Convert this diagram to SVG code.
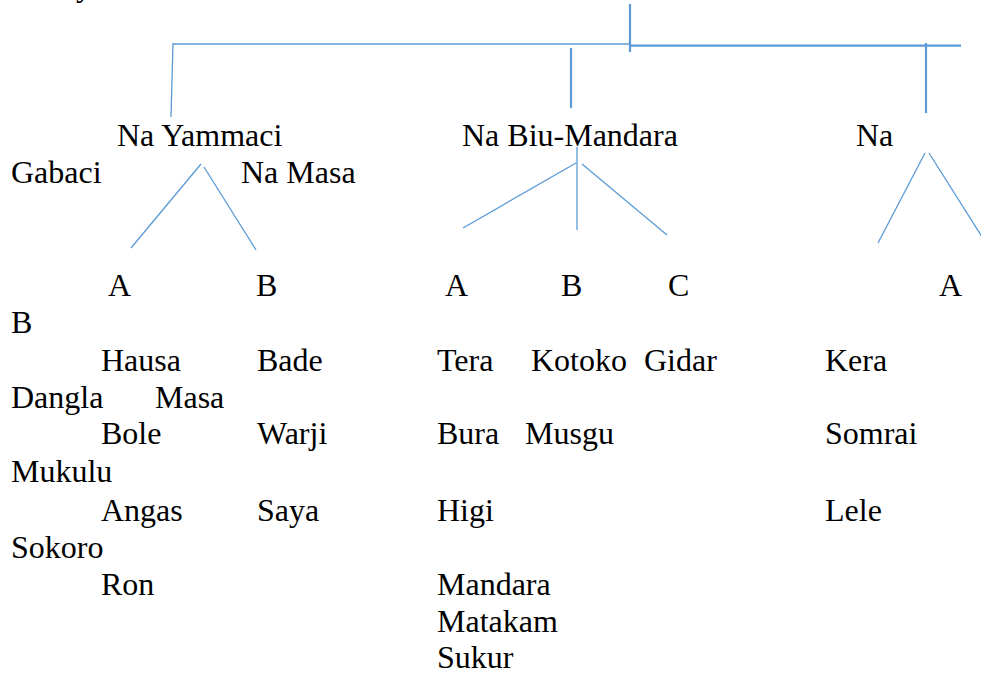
<svg xmlns="http://www.w3.org/2000/svg" width="981" height="675" viewBox="0 0 981 675">
<style>
.t text{font-size:32px;fill:#000}
.c{stroke:#5B9BD5;fill:none}
.thin{stroke-width:1.3}
.mid{stroke-width:1.6}
.thick{stroke-width:2.2}
</style>
<rect width="981" height="675" fill="#fff"/>
<g id="connectors">
<line class="c mid" x1="173" y1="44" x2="630" y2="44"/>
<line class="c thick" x1="630" y1="45.7" x2="961" y2="45.7"/>
<line class="c thick" x1="630" y1="4" x2="630" y2="52"/>
<line class="c thin" x1="173" y1="43" x2="171" y2="117"/>
<line class="c thick" x1="571" y1="48" x2="571" y2="108"/>
<line class="c thick" x1="926" y1="43" x2="926" y2="113"/>
<line class="c thin" x1="201" y1="164" x2="131" y2="248"/>
<line class="c thin" x1="204" y1="167" x2="256" y2="250"/>
<line class="c thin" x1="576" y1="163" x2="463" y2="228"/>
<line class="c thin" x1="577" y1="147" x2="577" y2="230"/>
<line class="c thin" x1="582" y1="164" x2="667" y2="235"/>
<line class="c thin" x1="925" y1="153" x2="878" y2="243"/>
<line class="c thin" x1="929" y1="153" x2="984" y2="240"/>
</g>
<g class="t" font-family="'Liberation Serif', 'Times New Roman', 'DejaVu Serif', serif">
<g id="top-fragment"><text x="76" y="-4">y</text></g>
<g id="na-yammaci"><text x="117" y="146">Na Yammaci</text></g>
<g id="gabaci"><text x="11" y="183">Gabaci</text></g>
<g id="na-masa"><text x="241" y="183">Na Masa</text></g>
<g id="na-biu-mandara"><text x="462" y="146">Na Biu-Mandara</text></g>
<g id="na"><text x="856" y="146">Na</text></g>
<g id="yammaci-a"><text x="108" y="296">A</text></g>
<g id="yammaci-b"><text x="256" y="296">B</text></g>
<g id="biu-a"><text x="445" y="296">A</text></g>
<g id="biu-b"><text x="561" y="296">B</text></g>
<g id="biu-c"><text x="668" y="296">C</text></g>
<g id="na-a"><text x="939" y="296">A</text></g>
<g id="na-b"><text x="11" y="333">B</text></g>
<g id="yammaci-a-list">
<text x="101" y="371">Hausa</text>
<text x="101" y="444">Bole</text>
<text x="101" y="521">Angas</text>
<text x="101" y="595">Ron</text>
</g>
<g id="yammaci-b-list">
<text x="257" y="371">Bade</text>
<text x="257" y="444">Warji</text>
<text x="257" y="521">Saya</text>
</g>
<g id="na-b-list">
<text x="11" y="408">Dangla</text>
<text x="155" y="408">Masa</text>
<text x="11" y="482">Mukulu</text>
<text x="11" y="558">Sokoro</text>
</g>
<g id="biu-a-list">
<text x="437" y="371">Tera</text>
<text x="437" y="444">Bura</text>
<text x="437" y="521">Higi</text>
<text x="437" y="595">Mandara</text>
<text x="437" y="632">Matakam</text>
<text x="437" y="668">Sukur</text>
</g>
<g id="biu-b-list">
<text x="531" y="371">Kotoko</text>
<text x="525" y="444">Musgu</text>
</g>
<g id="biu-c-list"><text x="644" y="371">Gidar</text></g>
<g id="na-a-list">
<text x="825" y="371">Kera</text>
<text x="825" y="444">Somrai</text>
<text x="825" y="521">Lele</text>
</g>
</g>
</svg>
